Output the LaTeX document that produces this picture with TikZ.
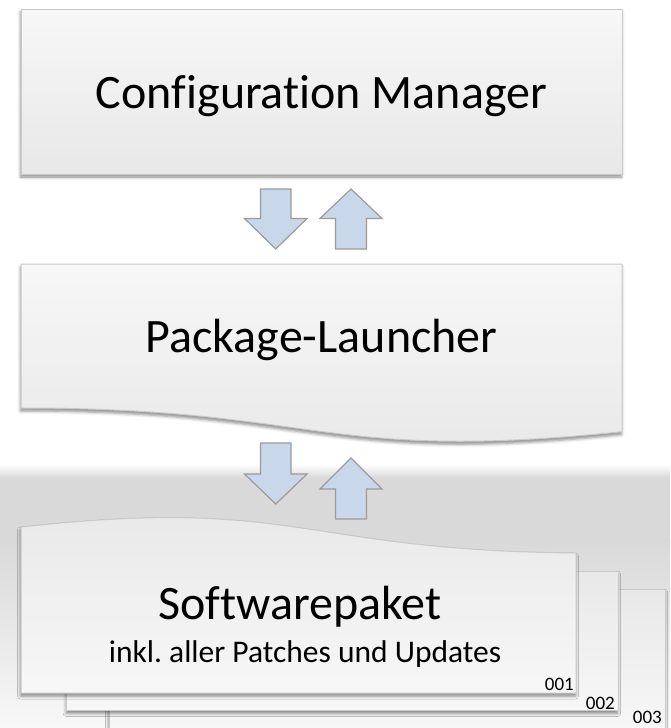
\documentclass[tikz,border=0pt]{standalone}
\usepackage{fontspec}
\setmainfont{Carlito}[Ligatures={NoCommon}]
\usetikzlibrary{shadows.blur}
\frenchspacing
\definecolor{arrowfill}{HTML}{C8D7EA}
\definecolor{arrowline}{HTML}{9B9B9B}
\definecolor{boxline}{HTML}{C9C9C9}
\definecolor{boxtop}{HTML}{F7F7F7}
\definecolor{boxbot}{HTML}{E8E8E8}
\definecolor{bandgray}{HTML}{D9D9D9}
\definecolor{bandlight}{HTML}{F8F8F8}
\tikzset{
  softshadow/.style={blur shadow={shadow xshift=-0.5pt, shadow yshift=-3pt, shadow blur radius=3pt, shadow opacity=45}},
  boxshape/.style={draw=boxline, line width=1pt, top color=boxtop, bottom color=boxbot, softshadow},
  docflip/.style={draw=boxline, line width=1pt, top color=boxbot, bottom color=boxtop, softshadow},
  blockarrow/.style={draw=arrowline, fill=arrowfill, line width=1.2pt, line join=miter},
  bigtext/.style={font=\fontsize{48}{52}\selectfont, anchor=base, inner sep=0pt},
  subtext/.style={font=\fontsize{31.5}{35}\selectfont, anchor=base, inner sep=0pt},
  numtext/.style={font=\fontsize{19}{22}\selectfont, anchor=base east, inner sep=0pt}
}
\begin{document}
\begin{tikzpicture}[x=1pt, y=-1pt]
\useasboundingbox (0,0) rectangle (670,728);
% grey band behind the package stack
\shade[top color=white, bottom color=bandgray] (0,464) rectangle (670,478);
\fill[bandgray] (0,477.5) rectangle (670,540);
\shade[top color=bandgray, bottom color=bandlight] (0,539.5) rectangle (670,728);
% Configuration Manager
\path[boxshape] (21,9) rectangle (622,174);
\node[bigtext] (cm) at (321.5,108) {Configuration Manager};
% arrows 1
\path[blockarrow] (260.5,189) -- (291,189) -- (291,218.5) -- (307,218.5) -- (275.75,249) -- (244.5,218.5) -- (260.5,218.5) -- cycle;
\path[blockarrow] (335.5,249) -- (366.5,249) -- (366.5,218.5) -- (382,218.5) -- (351,189) -- (320,218.5) -- (335.5,218.5) -- cycle;
% Package-Launcher
\path[boxshape] (21,264) -- (622,264) -- (622,431.7) .. controls (321.5,462.8) and (321.5,408) .. (21,408) -- cycle;
\node[bigtext] (pl) at (321.5,352) {Package-Launcher};
% arrows 2
\path[blockarrow] (260.5,443) -- (291,443) -- (291,474) -- (307,474) -- (275.75,504) -- (244.5,474) -- (260.5,474) -- cycle;
\path[blockarrow] (335.5,519) -- (366.5,519) -- (366.5,489) -- (382,489) -- (351,458) -- (320,489) -- (335.5,489) -- cycle;
% Softwarepaket stack
\path[docflip] (109,589) rectangle (665,729.5);
\path[docflip] (66.7,571) rectangle (618,710.5);
\path[docflip] (21,693) -- (21,527) .. controls (298.5,496.3) and (298.5,550.5) .. (576,553) -- (576,693) -- cycle;
\node[bigtext] (sw) at (300,619) {Softwarepaket};
\node[subtext] (inkl) at (305,662) {inkl. aller Patches und Updates};
\node[numtext] (n1) at (574,690) {001};
\node[numtext] (n2) at (615,709.5) {002};
\node[numtext] (n3) at (662,723.5) {003};
\end{tikzpicture}
\end{document}
